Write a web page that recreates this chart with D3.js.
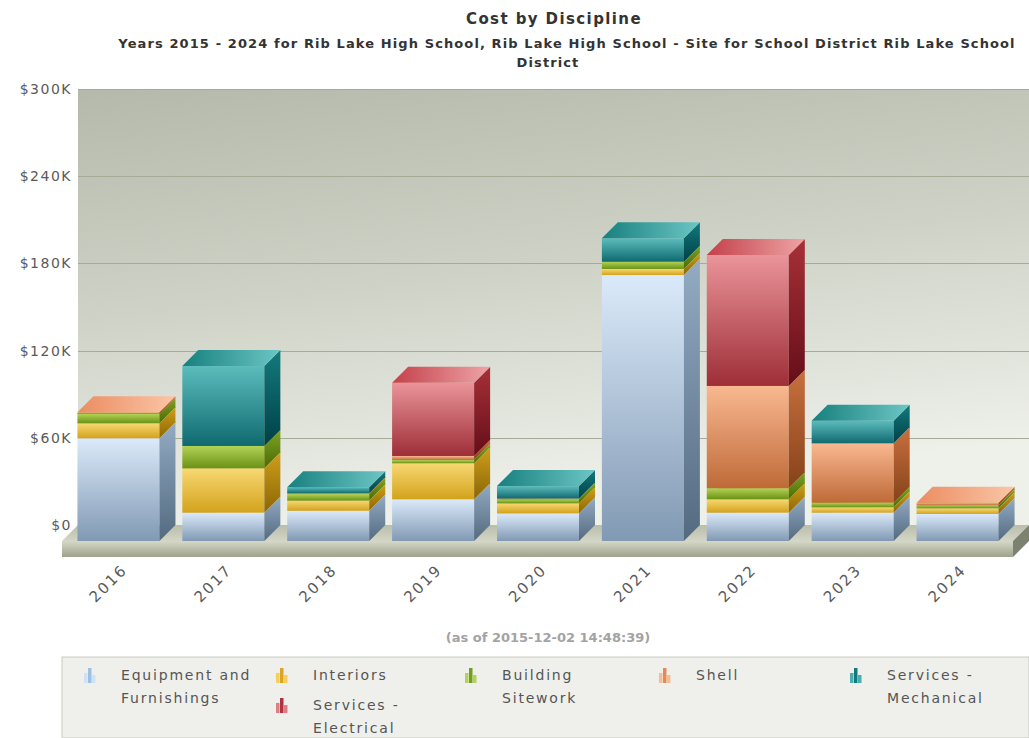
<!DOCTYPE html>
<html>
<head>
<meta charset="utf-8">
<script src="https://cdn.jsdelivr.net/npm/d3@7"></script>
<style>
  body { margin: 0; background: #fff; }
  svg { display: block; font-family: "DejaVu Sans", Verdana, sans-serif; }
</style>
</head>
<body>
<svg id="chart" width="1029" height="738"></svg>
<script>
// ---- data (thousands of dollars) ----
const years = ["2016", "2017", "2018", "2019", "2020", "2021", "2022", "2023", "2024"];
const seriesNames = ["Equipment and Furnishings", "Interiors", "Building Sitework", "Shell",
                     "Services - Mechanical", "Services - Electrical"];
const equipment  = [70.7, 19.5, 20.8, 28.7, 19.0, 183.0, 19.5, 19.5, 18.6];
const interiors  = [10.3, 30.5,  7.0, 24.8,  6.9,   4.2,  9.2,  3.7,  3.9];
const sitework   = [ 6.4, 15.4,  4.5,  2.2,  2.8,   5.0,  7.6,  3.2,  2.1];
const shell      = [ 1.2,  0.0,  0.5,  2.8,  0.5,   0.0, 70.4, 40.8,  1.8];
const mechanical = [ 0.0, 55.0,  4.2,  0.0,  8.6,  16.1,  0.0, 15.6,  0.0];
const electrical = [ 0.0,  0.0,  0.0, 50.4,  0.0,   0.0, 90.1,  0.0,  0.0];
const yTicks = [0, 60, 120, 180, 240, 300];
const title = "Cost by Discipline";
const subtitleLines = ["Years 2015 - 2024 for Rib Lake High School, Rib Lake High School - Site for School District Rib Lake School",
                       "District"];
const footnote = "(as of 2015-12-02 14:48:39)";

const seriesValues = [equipment, interiors, sitework, shell, mechanical, electrical];
const rows = years.map((yr, i) => {
  const r = { year: yr };
  seriesNames.forEach((s, k) => r[s] = seriesValues[k][i]);
  return r;
});
const stacked = d3.stack().keys(seriesNames)(rows);

// ---- colours per series: front (top→bottom), side (top→bottom), top (left→right), legend icon ----
const palette = {
  "Equipment and Furnishings": { front: ["#dbeafa", "#8199b3"], side: ["#93abc3", "#536a80"], top: ["#b8cde3", "#e2eefa"], icon: ["#cfe2f4", "#9dbfe2"] },
  "Interiors":                 { front: ["#f7d872", "#d4a21c"], side: ["#cf9f1a", "#8a6606"], top: ["#d9a928", "#f4d880"], icon: ["#f4cf5c", "#dca424"] },
  "Building Sitework":         { front: ["#b2d256", "#6a9214"], side: ["#7ea422", "#4a6a06"], top: ["#84aa26", "#bcd866"], icon: ["#b4d25a", "#72a01c"] },
  "Shell":                     { front: ["#f9b890", "#bf6a38"], side: ["#c8703e", "#86421a"], top: ["#ec8c62", "#fac6a6"], icon: ["#f8bc94", "#e58a56"] },
  "Services - Mechanical":     { front: ["#5cbcbc", "#0f6a70"], side: ["#137a7c", "#004048"], top: ["#17807f", "#6cc6c4"], icon: ["#4aaeae", "#127a7c"] },
  "Services - Electrical":     { front: ["#ea9499", "#9e2e38"], side: ["#a83038", "#640e18"], top: ["#c4404a", "#eea4a6"], icon: ["#e07c84", "#b0343e"] }
};

// ---- geometry ----
const depth = 16;                                   // 3D offset (right and up)
const frontPlane = { left: 62, right: 1013, bottom: 541 };
const backWall = { left: 78, right: 1029, top: 89, bottom: 525 };

const svg = d3.select("#chart");
const defs = svg.append("defs");

function linGrad(id, stops, x2, y2) {
  const g = defs.append("linearGradient").attr("id", id)
    .attr("x1", 0).attr("y1", 0).attr("x2", x2).attr("y2", y2);
  stops.forEach((c, i) => g.append("stop").attr("offset", i / (stops.length - 1)).attr("stop-color", c));
}
seriesNames.forEach((s, k) => {
  const p = palette[s];
  linGrad(`front${k}`, p.front, 0, 1);
  linGrad(`side${k}`, p.side, 0, 1);
  linGrad(`top${k}`, p.top, 1, 0);
});
linGrad("wall", ["#b4b9ac", "#cfd3c7", "#eef0ea"], 0.25, 1);
linGrad("floorFront", ["#d6d9c8", "#b9bda8", "#9fa38e"], 0, 1);
linGrad("floorTop", ["#b9bdaa", "#d3d6c6"], 0, 1);

const x = d3.scaleBand().domain(years)
  .range([66, 1010]).paddingInner(0.218).paddingOuter(0.109);
const y = d3.scaleLinear().domain([0, 300]).range([backWall.bottom, backWall.top]);
const yFront = v => y(v) + depth;

// ---- back wall with gridlines ----
svg.append("rect")
  .attr("x", backWall.left).attr("y", backWall.top)
  .attr("width", backWall.right - backWall.left).attr("height", backWall.bottom - backWall.top)
  .attr("fill", "url(#wall)");

svg.append("g").selectAll("line").data(yTicks.filter(t => t > 0)).join("line")
  .attr("x1", backWall.left).attr("x2", backWall.right)
  .attr("y1", d => Math.round(y(d)) + 0.5).attr("y2", d => Math.round(y(d)) + 0.5)
  .attr("stroke", "#a7ab96").attr("stroke-width", 1.2);

// y axis labels
const yAxis = svg.append("g")
  .attr("transform", `translate(${backWall.left},0)`)
  .call(d3.axisLeft(y).tickValues(yTicks).tickSize(0).tickPadding(6)
    .tickFormat(d => d === 0 ? "$0" : `$${d}K`));
yAxis.select(".domain").remove();
yAxis.selectAll("text")
  .attr("fill", "#5a5a5a").style("font-size", "14px").style("letter-spacing", "1.5px")
  .style("font-family", "'DejaVu Sans', Verdana, sans-serif");

// ---- floor ----
const floor = svg.append("g");
floor.append("path")
  .attr("d", `M${frontPlane.left},${frontPlane.bottom} L${frontPlane.right},${frontPlane.bottom}
              L${frontPlane.right + depth},${frontPlane.bottom - depth} L${backWall.left},${backWall.bottom} Z`)
  .attr("fill", "url(#floorTop)");
floor.append("rect")
  .attr("x", frontPlane.left).attr("y", frontPlane.bottom)
  .attr("width", frontPlane.right - frontPlane.left).attr("height", 16)
  .attr("fill", "url(#floorFront)");
floor.append("path")
  .attr("d", `M${frontPlane.right},${frontPlane.bottom} L${frontPlane.right + depth},${frontPlane.bottom - depth}
              L${frontPlane.right + depth},${frontPlane.bottom} L${frontPlane.right},${frontPlane.bottom + 16} Z`)
  .attr("fill", "#7d8270");

// ---- stacked 3D columns ----
const bw = x.bandwidth();
const barGroups = svg.append("g").selectAll("g.bar").data(years).join("g").attr("class", "bar");
barGroups.each(function (yr, i) {
  const segs = stacked.map((layer, k) => ({ k, y0: layer[i][0], y1: layer[i][1] }))
    .filter(s => s.y1 - s.y0 > 0);
  const xl = x(yr), xr = xl + bw;
  const seg = d3.select(this).selectAll("g.seg").data(segs).join("g").attr("class", "seg");
  seg.append("rect")
    .attr("x", xl).attr("y", s => yFront(s.y1))
    .attr("width", bw).attr("height", s => yFront(s.y0) - yFront(s.y1))
    .attr("fill", s => `url(#front${s.k})`);
  seg.append("path")
    .attr("d", s => {
      const yt = yFront(s.y1), yb = yFront(s.y0);
      return `M${xr},${yt} L${xr + depth},${yt - depth} L${xr + depth},${yb - depth} L${xr},${yb} Z`;
    })
    .attr("fill", s => `url(#side${s.k})`);
  seg.append("path")
    .attr("d", s => {
      const yt = yFront(s.y1);
      return `M${xl},${yt} L${xl + depth},${yt - depth} L${xr + depth},${yt - depth} L${xr},${yt} Z`;
    })
    .attr("fill", s => `url(#top${s.k})`);
});

// ---- x axis labels (rotated) ----
const xAxis = svg.append("g")
  .attr("transform", `translate(0,567)`)
  .call(d3.axisBottom(x).tickSize(0));
xAxis.select(".domain").remove();
xAxis.selectAll("text")
  .attr("x", 0).attr("y", 0).attr("dy", "0.35em")
  .attr("text-anchor", "end")
  .attr("transform", "translate(6,0) rotate(-45)")
  .attr("fill", "#5a5a5a").style("font-size", "15px").style("letter-spacing", "2px")
  .style("font-family", "'DejaVu Sans', Verdana, sans-serif");

// ---- titles ----
svg.append("text").attr("x", 554).attr("y", 24).attr("text-anchor", "middle")
  .attr("fill", "#333").style("font-size", "15px").style("font-weight", "bold")
  .style("letter-spacing", "1.4px").text(title);
svg.append("g").selectAll("text").data(subtitleLines).join("text")
  .attr("x", (d, i) => i === 0 ? 567 : 548).attr("y", (d, i) => 48 + i * 19)
  .attr("text-anchor", "middle").attr("fill", "#333")
  .style("font-size", "13px").style("font-weight", "bold").style("letter-spacing", "1.1px")
  .text(d => d);

svg.append("text").attr("x", 548).attr("y", 642).attr("text-anchor", "middle")
  .attr("fill", "#a3a3a3").style("font-size", "13px").style("font-weight", "bold")
  .text(footnote);

// ---- legend ----
const legendBox = { x: 62, y: 657, w: 967, h: 81 };
svg.append("rect").attr("x", legendBox.x).attr("y", legendBox.y)
  .attr("width", legendBox.w).attr("height", legendBox.h)
  .attr("fill", "#eff0eb").attr("stroke", "#c9cbc1");

const legendColX = [121, 313, 502, 696, 887];
const legendSlots = [[0, 0], [1, 0], [2, 0], [3, 0], [4, 0], [1, 1]];   // [column, row] per series
const legendLines = ["Equipment and|Furnishings", "Interiors", "Building|Sitework", "Shell",
                     "Services -|Mechanical", "Services -|Electrical"];
const legendItems = svg.append("g").selectAll("g").data(seriesNames).join("g")
  .attr("transform", (d, i) => {
    const [c, r] = legendSlots[i];
    return `translate(${legendColX[c]},${680 + r * 30})`;
  });
legendItems.each(function (name, i) {
  const g = d3.select(this);
  const [light, dark] = palette[name].icon;
  // small column-chart glyph
  const ix = -37, base = 3;
  [[0, 10, light], [4, 15, dark], [8, 8, light]].forEach(([dx, h, c]) => {
    g.append("rect").attr("x", ix + dx).attr("y", base - h).attr("width", 3.5).attr("height", h)
      .attr("fill", c);
  });
  g.selectAll("text").data(legendLines[i].split("|")).join("text")
    .attr("x", 0).attr("y", (d, j) => j * 23)
    .attr("fill", "#555").style("font-size", "14px").style("letter-spacing", "1.8px")
    .text(d => d);
});
</script>
</body>
</html>
